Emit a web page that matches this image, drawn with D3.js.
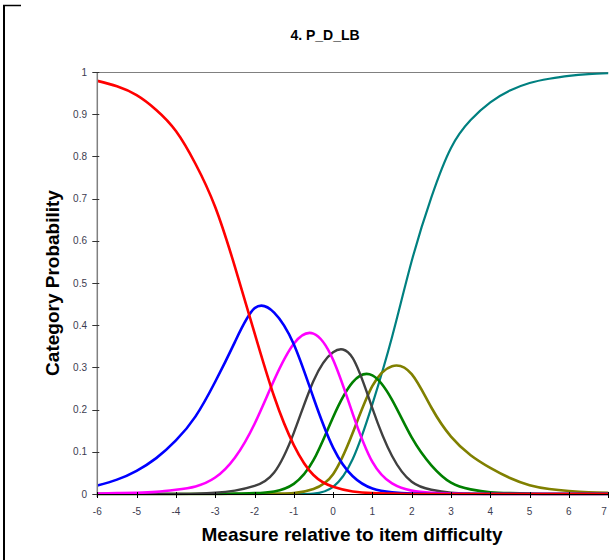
<!DOCTYPE html>
<html>
<head>
<meta charset="utf-8">
<script src="https://cdn.jsdelivr.net/npm/d3@7"></script>
<style>
  html, body { margin: 0; padding: 0; background: #fff; }
  svg { display: block; font-family: "Liberation Sans", Arial, sans-serif; }
</style>
</head>
<body>
<svg id="chart" width="609" height="560"></svg>
<script>
// ---- data ----
const title = "4. P_D_LB";
const xTitle = "Measure relative to item difficulty";
const yTitle = "Category Probability";
const theta = [-6,-5.5,-5,-4.5,-4,-3.5,-3,-2.5,-2,-1.5,-1,-0.5,0,0.5,1,1.5,2,2.5,3,3.5,4,4.5,5,5.5,6,6.5,7];
const cat0 = [0.979,0.966,0.945,0.910,0.860,0.782,0.680,0.539,0.382,0.231,0.116,0.045,0.017,0.006,0.002,0.001,0,0,0,0,0,0,0,0,0,0,0];
const cat1 = [0.020,0.034,0.055,0.085,0.127,0.184,0.266,0.360,0.440,0.430,0.355,0.228,0.110,0.042,0.013,0.004,0.001,0,0,0,0,0,0,0,0,0,0];
const cat2 = [0.001,0.002,0.003,0.005,0.010,0.018,0.039,0.086,0.166,0.270,0.356,0.380,0.318,0.190,0.076,0.025,0.008,0.003,0.001,0,0,0,0,0,0,0,0];
const cat3 = [0,0,0,0,0,0.001,0.003,0.008,0.019,0.051,0.145,0.268,0.336,0.322,0.203,0.090,0.029,0.010,0.003,0.001,0,0,0,0,0,0,0];
const cat4 = [0,0,0,0,0,0,0,0.001,0.002,0.006,0.024,0.080,0.182,0.265,0.281,0.223,0.134,0.068,0.027,0.011,0.004,0.002,0.001,0,0,0,0];
const cat5 = [0,0,0,0,0,0,0,0,0,0.001,0.002,0.012,0.047,0.145,0.256,0.303,0.284,0.205,0.136,0.092,0.062,0.038,0.021,0.012,0.007,0.004,0.003];
const cat6 = [0,0,0,0,0,0,0,0,0,0,0,0.001,0.017,0.083,0.213,0.372,0.552,0.703,0.820,0.886,0.928,0.956,0.974,0.984,0.991,0.995,0.997];
const seriesColors = ["#ff0000","#0000ff","#ff00ff","#404040","#008000","#808000","#008080"];
const xTicks = [-6,-5,-4,-3,-2,-1,0,1,2,3,4,5,6,7];
const yTicks = [0,0.1,0.2,0.3,0.4,0.5,0.6,0.7,0.8,0.9,1];

// ---- layout ----
const svg = d3.select("#chart");
const x = d3.scaleLinear().domain([-6, 7]).range([97.3, 608.2]);
const y = d3.scaleLinear().domain([0, 1]).range([494, 72]);

svg.append("defs").append("clipPath").attr("id", "plotClip")
  .append("rect").attr("x", x(-6)).attr("y", y(1) - 3)
  .attr("width", 609 - x(-6)).attr("height", y(0) - y(1) + 4.5);

// outer frame fragment (left edge of the enclosing box)
svg.append("line").attr("x1", 4).attr("x2", 4).attr("y1", 5).attr("y2", 560)
  .attr("stroke", "#000").attr("stroke-width", 2);
svg.append("line").attr("x1", 3).attr("x2", 21).attr("y1", 5.5).attr("y2", 5.5)
  .attr("stroke", "#000").attr("stroke-width", 1.5);

// title
svg.append("text").attr("x", 325).attr("y", 40).attr("text-anchor", "middle")
  .attr("font-size", 14).attr("font-weight", "bold").attr("fill", "#000").text(title);

// top border of the plot
svg.append("line").attr("x1", x(-6)).attr("x2", x(7)).attr("y1", y(1) + 0.5).attr("y2", y(1) + 0.5)
  .attr("stroke", "#808080").attr("stroke-width", 1);

// series (drawn last-category first so red ends on top)
const cats = [cat0, cat1, cat2, cat3, cat4, cat5, cat6];
const line = d3.line()
  .x((d, i) => x(theta[i]))
  .y(d => y(d))
  .curve(d3.curveNatural);
const widths = [2.6, 2.6, 2.6, 2.4, 2.6, 2.6, 2.2];
const plotG = svg.append("g").attr("clip-path", "url(#plotClip)");
for (let k = cats.length - 1; k >= 0; k--) {
  plotG.append("path").datum(cats[k]).attr("d", line)
    .attr("fill", "none").attr("stroke", seriesColors[k])
    .attr("stroke-width", widths[k]).attr("stroke-linejoin", "round");
}

// y axis
const yAxisG = svg.append("g");
yAxisG.append("line").attr("x1", x(-6)).attr("x2", x(-6)).attr("y1", y(1)).attr("y2", y(0) + 3)
  .attr("stroke", "#808080").attr("stroke-width", 1.5);
yAxisG.selectAll(".yt").data(yTicks).enter().append("line")
  .attr("x1", x(-6) - 5).attr("x2", x(-6) + 2)
  .attr("y1", d => Math.round(y(d)) + 0.5).attr("y2", d => Math.round(y(d)) + 0.5)
  .attr("stroke", "#333").attr("stroke-width", 1);
yAxisG.selectAll(".yl").data(yTicks).enter().append("text")
  .attr("x", 87).attr("y", d => y(d)).attr("dy", "0.35em")
  .attr("text-anchor", "end").attr("font-size", 10).attr("fill", "#3c3c50")
  .text(d => d3.format("")(d));

// x axis
const xAxisG = svg.append("g");
xAxisG.append("line").attr("x1", x(-6)).attr("x2", x(7)).attr("y1", y(0) + 0.5).attr("y2", y(0) + 0.5)
  .attr("stroke", "#000").attr("stroke-width", 1);
xAxisG.selectAll(".xt").data(xTicks).enter().append("line")
  .attr("x1", d => Math.round(x(d)) + 0.5).attr("x2", d => Math.round(x(d)) + 0.5)
  .attr("y1", y(0) - 2).attr("y2", y(0) + 4)
  .attr("stroke", "#000").attr("stroke-width", 1);
xAxisG.selectAll(".xl").data(xTicks).enter().append("text")
  .attr("x", d => Math.min(x(d), 604)).attr("y", 515)
  .attr("text-anchor", "middle").attr("font-size", 10).attr("fill", "#3c3c50")
  .text(d => d);

// axis titles
svg.append("text").attr("x", 352).attr("y", 541).attr("text-anchor", "middle")
  .attr("font-size", 19).attr("font-weight", "bold").attr("fill", "#000").text(xTitle);
svg.append("text").attr("transform", "translate(59,283) rotate(-90)")
  .attr("text-anchor", "middle").attr("font-size", 19).attr("font-weight", "bold")
  .attr("fill", "#000").text(yTitle);
</script>
</body>
</html>
